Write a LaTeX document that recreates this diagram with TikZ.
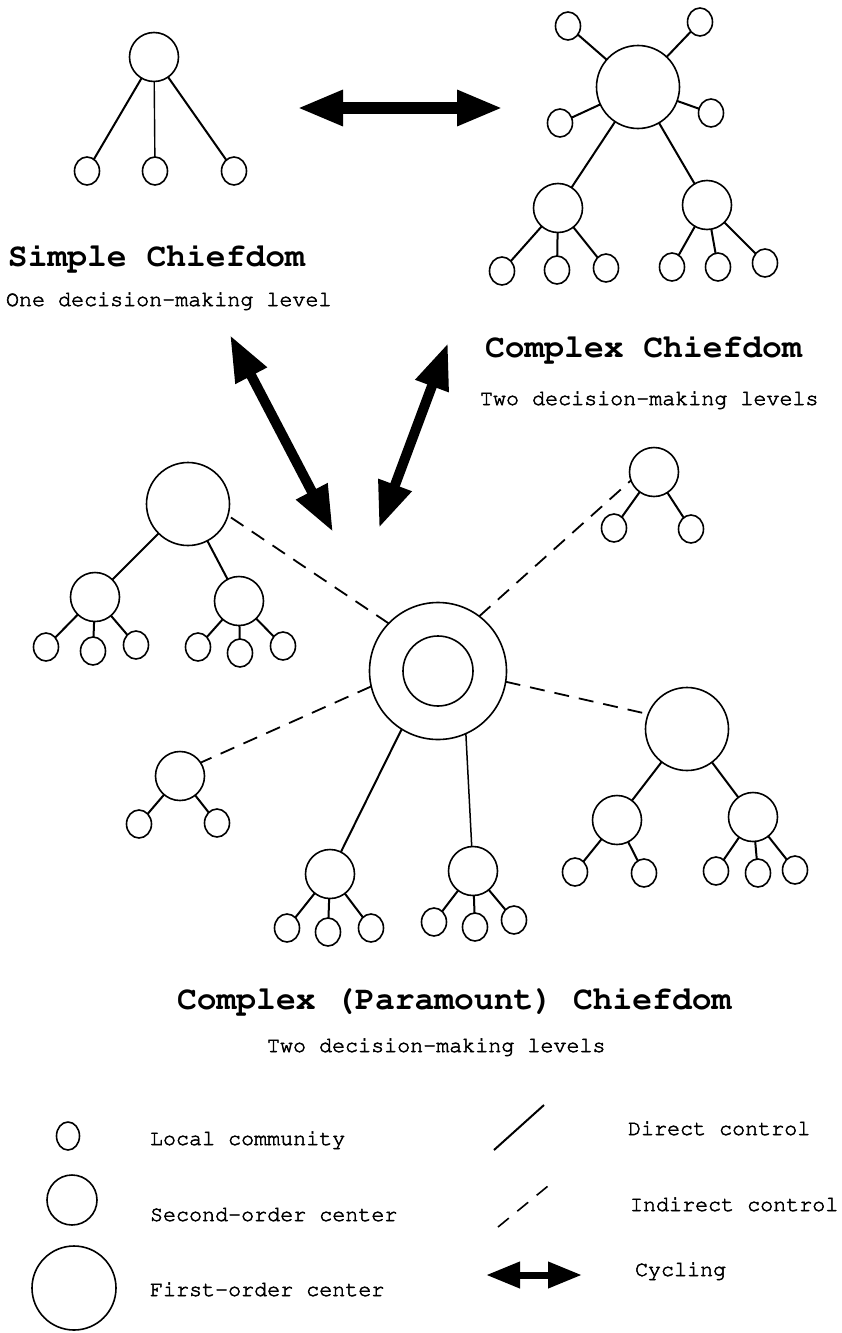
\documentclass[tikz,border=0pt]{standalone}
\usepackage[T1]{fontenc}
\usepackage{courier}
\usetikzlibrary{arrows.meta,shapes.geometric}

\newcommand\chieftitle{\fontsize{33}{36}\selectfont\ttfamily\bfseries}
\newcommand\chiefsub{\fontsize{21.7}{25}\selectfont\ttfamily}
% slightly heavier ink for the small typewriter captions
\newcommand\inked[1]{\special{pdf:literal direct 2 Tr 0.5 w}#1\special{pdf:literal direct 0 Tr}}

\begin{document}
\begin{tikzpicture}[x=1pt,y=-1pt,
  every node/.style={inner sep=0pt, outer sep=0pt},
  leaf/.style={draw, ellipse, minimum width=25pt, minimum height=28pt, line width=1.6pt},
  second/.style={draw, circle, minimum size=49pt, line width=1.6pt},
  first/.style={draw, circle, minimum size=83pt, line width=1.6pt},
  direct/.style={line width=2pt},
  indirect/.style={line width=1.8pt, dash pattern=on 15pt off 10pt},
  cycling/.style={line width=#1, {Triangle[length=46pt,width=33pt]}-{Triangle[length=46pt,width=33pt]}},
  smallcycling/.style={line width=7pt, {Triangle[length=34pt,width=25pt]}-{Triangle[length=34pt,width=25pt]}},
  label/.style={anchor=base west, text=black}
]
\useasboundingbox (0,0) rectangle (842,1333);

% ---------------- Simple chiefdom ----------------
\node[second] (s0) at (154,57) {};
\node[leaf] (s1) at (87,171) {};
\node[leaf] (s2) at (155,171) {};
\node[leaf] (s3) at (234,171) {};
\draw[direct] (s0) -- (s1);
\draw[line width=1.4pt] (s0) -- (s2);
\draw[direct] (s0) -- (s3);

\node[label, font=\chieftitle] (t1) at (8,266) {Simple Chiefdom};
\node[label, font=\chiefsub] (t2) at (6,306) {\inked{One decision-making level}};

% ---------------- Complex chiefdom ----------------
\node[first] (k0) at (638,87) {};
\node[leaf] (k1) at (568,26) {};
\node[leaf] (k2) at (700,22) {};
\node[leaf] (k3) at (560,123) {};
\node[leaf] (k4) at (711,113) {};
\node[second] (k5) at (558,208) {};
\node[second] (k6) at (707,205) {};
\node[leaf] (k7) at (502,271) {};
\node[leaf] (k8) at (557,270) {};
\node[leaf] (k9) at (606,268) {};
\node[leaf] (k10) at (672,267) {};
\node[leaf] (k11) at (718,267) {};
\node[leaf] (k12) at (765,263) {};
\foreach \t in {k1,k2,k3,k4,k5,k6} \draw[direct] (k0) -- (\t);
\foreach \t in {k7,k8,k9} \draw[direct] (k5) -- (\t);
\foreach \t in {k10,k11,k12} \draw[direct] (k6) -- (\t);

\node[label, font=\chieftitle] (t3) at (485,357) {Complex Chiefdom};
\node[label, font=\chiefsub] (t4) at (480,405) {\inked{Two decision-making levels}};

% ---------------- Cycling between the forms ----------------
\coordinate (h1) at (297,108);
\coordinate (h2) at (503,108);
\draw[cycling=12pt] (h1) -- (h2);

\coordinate (d1) at (230,335);
\coordinate (d2) at (333,532);
\draw[cycling=10pt] (d1) -- (d2);

\coordinate (e1) at (448,343);
\coordinate (e2) at (379,528);
\draw[cycling=10pt] (e1) -- (e2);

% ---------------- Complex (paramount) chiefdom ----------------
\node[draw, circle, minimum size=137pt, line width=1.6pt] (c) at (438,671) {};
\node[draw, circle, minimum size=70pt, line width=1.6pt] (cin) at (438,671) {};

% upper left first-order center
\node[first] (a0) at (188,504) {};
\node[second] (a1) at (95,597) {};
\node[second] (a2) at (239,601) {};
\node[leaf] (a3) at (46,647) {};
\node[leaf] (a4) at (93,651) {};
\node[leaf] (a5) at (136,645) {};
\node[leaf] (a6) at (198,647) {};
\node[leaf] (a7) at (240,653) {};
\node[leaf] (a8) at (283,646) {};
\draw[direct] (a0) -- (a1);
\draw[direct] (a0) -- (a2);
\foreach \t in {a3,a4,a5} \draw[direct] (a1) -- (\t);
\foreach \t in {a6,a7,a8} \draw[direct] (a2) -- (\t);

% upper right second-order center
\node[second] (b0) at (654,472) {};
\node[leaf] (b1) at (614,528) {};
\node[leaf] (b2) at (691,529) {};
\draw[direct] (b0) -- (b1);
\draw[direct] (b0) -- (b2);

% left second-order center
\node[second] (l0) at (180,776) {};
\node[leaf] (l1) at (139,824) {};
\node[leaf] (l2) at (217,823) {};
\draw[direct] (l0) -- (l1);
\draw[direct] (l0) -- (l2);

% right first-order center
\node[first] (r0) at (687,729) {};
\node[second] (r1) at (617,820) {};
\node[second] (r2) at (753,817) {};
\node[leaf] (r3) at (575,872) {};
\node[leaf] (r4) at (644,873) {};
\node[leaf] (r5) at (716,871) {};
\node[leaf] (r6) at (758,873) {};
\node[leaf] (r7) at (795,870) {};
\draw[direct] (r0) -- (r1);
\draw[direct] (r0) -- (r2);
\foreach \t in {r3,r4} \draw[direct] (r1) -- (\t);
\foreach \t in {r5,r6,r7} \draw[direct] (r2) -- (\t);

% bottom second-order centers under direct control
\node[second] (m1) at (330,874) {};
\node[second] (m2) at (473,871) {};
\node[leaf] (m3) at (287,928) {};
\node[leaf] (m4) at (328,932) {};
\node[leaf] (m5) at (371,928) {};
\node[leaf] (m6) at (434,922) {};
\node[leaf] (m7) at (475,927) {};
\node[leaf] (m8) at (514,920) {};
\foreach \t in {m3,m4,m5} \draw[direct] (m1) -- (\t);
\foreach \t in {m6,m7,m8} \draw[direct] (m2) -- (\t);

% links from the paramount center
\draw[indirect] (c.136) -- (a0.-16);
\draw[indirect] (c.53) -- (b0.200);
\draw[indirect] (c.-9) -- (r0.159);
\draw[indirect] (c.193) -- (l0.33);
\draw[direct] (c.-122) -- (m1);
\draw[line width=1.5pt] (c.-66) -- (m2);

\node[label, font=\chieftitle] (t5) at (177,1009) {Complex (Paramount) Chiefdom};
\node[label, font=\chiefsub] (t6) at (267,1052) {\inked{Two decision-making levels}};

% ---------------- Legend ----------------
\node[leaf, minimum width=23pt] (g1) at (68,1136) {};
\node[second, minimum size=50pt] (g2) at (72,1200) {};
\node[first, minimum size=84pt] (g3) at (74,1288) {};
\node[label, font=\chiefsub] (g1t) at (150,1145) {\inked{Local community}};
\node[label, font=\chiefsub] (g2t) at (150,1221) {\inked{Second-order center}};
\node[label, font=\chiefsub] (g3t) at (150,1296) {\inked{First-order center}};

\coordinate (p1) at (494,1150);
\coordinate (p2) at (544,1105);
\draw[direct] (p1) -- (p2);
\coordinate (q1) at (498,1227);
\coordinate (q2) at (548,1186);
\draw[line width=1.6pt, dash pattern=on 14pt off 11pt] (q1) -- (q2);
\coordinate (w1) at (486,1275);
\coordinate (w2) at (582,1275);
\draw[smallcycling] (w1) -- (w2);
\node[label, font=\chiefsub] (p3) at (628,1135) {\inked{Direct control}};
\node[label, font=\chiefsub] (q3) at (630,1211) {\inked{Indirect control}};
\node[label, font=\chiefsub] (w3) at (635,1276) {\inked{Cycling}};
\end{tikzpicture}
\end{document}
